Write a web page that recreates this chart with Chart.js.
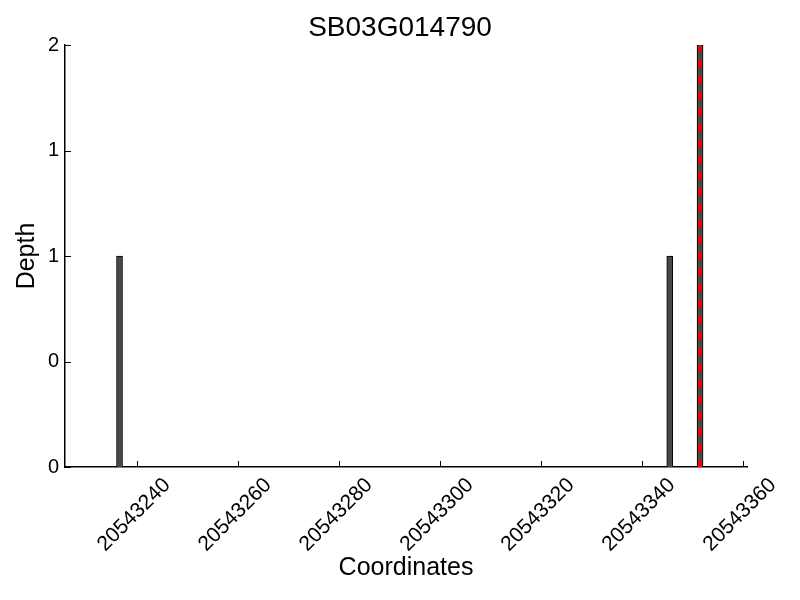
<!DOCTYPE html>
<html>
<head>
<meta charset="utf-8">
<script src="https://cdn.jsdelivr.net/npm/chart.js@4/dist/chart.umd.min.js"></script>
<style>
  html, body { margin: 0; padding: 0; background: #fff; }
  #wrap { width: 800px; height: 600px; }
</style>
</head>
<body>
<div id="wrap"><canvas id="depthChart" width="800" height="600"></canvas></div>
<script>
// read depth per position
const geneName = 'SB03G014790';
const coords = [20543236, 20543345, 20543351];
const depth = [1, 1, 2];
const markPos = 20543351;            // red dashed marker
const xTicks = [20543240, 20543260, 20543280, 20543300, 20543320, 20543340, 20543360];
const yTicks = [0, 0.5, 1, 1.5, 2];

const FONT = 'Liberation Sans, Arial, Helvetica, sans-serif';

// tick marks point into the plot area
const innerTicks = {
    id: 'innerTicks',
    afterDatasetsDraw(chart) {
        const {ctx, scales: {x, y}} = chart;
        ctx.save();
        ctx.strokeStyle = '#000';
        ctx.lineWidth = 1;
        ctx.beginPath();
        x.ticks.forEach(t => {
            const px = Math.round(x.getPixelForValue(t.value)) + 0.5;
            ctx.moveTo(px, x.top);
            ctx.lineTo(px, x.top - 6);
        });
        y.ticks.forEach(t => {
            const py = Math.round(y.getPixelForValue(t.value)) + 0.5;
            ctx.moveTo(y.right, py);
            ctx.lineTo(y.right + 6, py);
        });
        ctx.stroke();
        ctx.restore();
    }
};

new Chart(document.getElementById('depthChart'), {
    type: 'bar',
    data: {
        datasets: [
            {
                type: 'line',
                data: [{x: markPos + 0.5, y: 0}, {x: markPos + 0.5, y: 2}],
                borderColor: '#ff0000',
                borderWidth: 3.5,
                borderDash: [8, 8],
                pointRadius: 0,
                fill: false,
                order: 0
            },
            {
                data: coords.map((c, i) => ({x: c + 0.5, y: depth[i]})),
                backgroundColor: '#484848',
                borderColor: '#000',
                borderWidth: 1,
                barThickness: 6,
                order: 1
            }
        ]
    },
    options: {
        responsive: false,
        animation: false,
        layout: { padding: 0 },
        plugins: {
            legend: { display: false },
            tooltip: { enabled: false },
            title: {
                display: true,
                text: geneName,
                color: '#000',
                font: { family: FONT, size: 28, weight: 'normal' },
                padding: { top: 11, bottom: 0.4 }
            }
        },
        scales: {
            x: {
                type: 'linear',
                offset: false,
                min: 20543225.7,
                max: 20543360.8,
                afterBuildTicks: s => { s.ticks = xTicks.map(v => ({value: v})); },
                afterFit: s => { s.height = 133; },
                grid: { display: false, drawTicks: false },
                border: { display: true, color: '#000', width: 1.5 },
                ticks: {
                    color: '#000',
                    font: { family: FONT, size: 21 },
                    autoSkip: false,
                    maxRotation: 45,
                    minRotation: 45,
                    padding: 6,
                    labelOffset: 30,
                    callback: v => String(v)
                },
                title: {
                    display: true,
                    text: 'Coordinates',
                    color: '#000',
                    font: { family: FONT, size: 25 },
                    padding: { top: 0, bottom: 17 }
                }
            },
            y: {
                min: 0,
                max: 2,
                afterBuildTicks: s => { s.ticks = yTicks.map(v => ({value: v})); },
                afterFit: s => { s.width = 65; },
                grid: { display: false, drawTicks: false },
                border: { display: true, color: '#000', width: 1.5 },
                ticks: {
                    color: '#000',
                    font: { family: FONT, size: 20 },
                    padding: 6,
                    callback: v => Math.floor(v)
                },
                title: {
                    display: true,
                    text: 'Depth',
                    color: '#000',
                    font: { family: FONT, size: 25 },
                    padding: { top: 12, bottom: 0 }
                }
            },
            // empty right-hand strip so the title centres on the page
            spacer: {
                type: 'linear',
                position: 'right',
                afterFit: s => { s.width = 53; },
                grid: { display: false },
                border: { display: false },
                ticks: { display: false }
            }
        }
    },
    plugins: [innerTicks]
});
</script>
</body>
</html>
